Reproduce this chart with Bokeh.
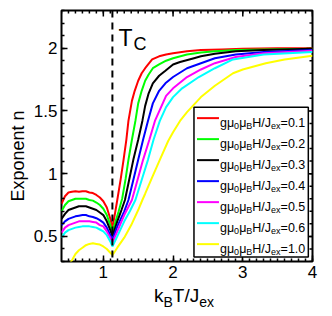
import numpy as np
from bokeh.plotting import figure
from bokeh.models import SingleIntervalTicker, Span, BoxAnnotation, Label, Div
from bokeh.layouts import column
from bokeh.core.properties import value
from bokeh.embed import file_html
from bokeh.resources import INLINE

# ---------------- data ----------------
x_left = [0.40, 0.45, 0.50, 0.55, 0.60, 0.65, 0.70, 0.75, 0.80, 0.85, 0.90, 0.95, 1.00, 1.05, 1.10, 1.13]

red_x = x_left + [1.16, 1.20, 1.25, 1.29, 1.33, 1.36, 1.41, 1.45, 1.50, 1.55, 1.60, 1.70, 1.80, 1.90, 2.00, 2.20, 2.40, 2.70, 3.00, 3.50, 4.00]
red_y = [0.76, 0.82, 0.85, 0.855, 0.86, 0.855, 0.86, 0.86, 0.85, 0.845, 0.83, 0.81, 0.78, 0.73, 0.64, 0.57,
         0.66, 0.79, 0.96, 1.11, 1.27, 1.42, 1.58, 1.66, 1.74, 1.80, 1.84, 1.91, 1.935, 1.95, 1.96, 1.975, 1.985, 1.99, 1.995, 2.0, 2.0]

green_x = x_left + [1.17, 1.22, 1.27, 1.32, 1.36, 1.41, 1.46, 1.50, 1.55, 1.60, 1.65, 1.71, 1.80, 1.90, 2.00, 2.20, 2.40, 2.60, 2.90, 3.30, 4.00]
green_y = [0.70, 0.75, 0.78, 0.79, 0.80, 0.80, 0.80, 0.80, 0.79, 0.785, 0.77, 0.75, 0.72, 0.67, 0.59, 0.53,
           0.61, 0.70, 0.80, 0.96, 1.11, 1.27, 1.42, 1.56, 1.66, 1.74, 1.79, 1.84, 1.87, 1.90, 1.92, 1.95, 1.965, 1.975, 1.985, 1.99, 1.995]

black_x = x_left + [1.20, 1.26, 1.31, 1.37, 1.43, 1.50, 1.56, 1.60, 1.65, 1.71, 1.80, 1.89, 2.00, 2.10, 2.30, 2.40, 2.60, 2.90, 3.30, 4.00]
black_y = [0.64, 0.68, 0.71, 0.72, 0.73, 0.74, 0.74, 0.74, 0.73, 0.72, 0.71, 0.69, 0.67, 0.62, 0.55, 0.50,
           0.62, 0.71, 0.79, 0.95, 1.11, 1.27, 1.42, 1.54, 1.64, 1.72, 1.78, 1.82, 1.87, 1.89, 1.92, 1.935, 1.955, 1.975, 1.985, 1.995]

blue_x = x_left + [1.20, 1.30, 1.36, 1.43, 1.50, 1.57, 1.64, 1.71, 1.80, 1.89, 2.00, 2.20, 2.40, 2.60, 2.90, 3.30, 4.00]
blue_y = [0.59, 0.62, 0.64, 0.65, 0.66, 0.665, 0.67, 0.67, 0.66, 0.655, 0.645, 0.63, 0.61, 0.57, 0.51, 0.47,
          0.58, 0.70, 0.79, 0.95, 1.11, 1.27, 1.42, 1.56, 1.66, 1.72, 1.77, 1.84, 1.88, 1.92, 1.95, 1.97, 1.985]

magenta_x = x_left + [1.20, 1.30, 1.41, 1.49, 1.57, 1.66, 1.74, 1.86, 1.90, 2.00, 2.20, 2.40, 2.60, 2.90, 3.30, 4.00]
magenta_y = [0.53, 0.57, 0.59, 0.60, 0.61, 0.62, 0.62, 0.62, 0.62, 0.615, 0.61, 0.59, 0.58, 0.54, 0.49, 0.45,
             0.54, 0.67, 0.79, 0.95, 1.11, 1.27, 1.42, 1.57, 1.62, 1.68, 1.77, 1.83, 1.88, 1.93, 1.96, 1.98]

cyan_x = x_left + [1.20, 1.30, 1.38, 1.46, 1.55, 1.64, 1.72, 1.81, 1.90, 2.00, 2.13, 2.37, 2.60, 2.86, 3.30, 4.00]
cyan_y = [0.49, 0.53, 0.55, 0.56, 0.57, 0.575, 0.58, 0.58, 0.58, 0.575, 0.57, 0.555, 0.54, 0.51, 0.46, 0.42,
          0.50, 0.62, 0.70, 0.79, 0.95, 1.11, 1.27, 1.42, 1.53, 1.61, 1.68, 1.77, 1.84, 1.91, 1.95, 1.97]

yellow_x = [0.50, 0.55, 0.60, 0.65, 0.70, 0.75, 0.80, 0.85, 0.90, 0.95, 1.00, 1.05, 1.10, 1.13,
            1.20, 1.30, 1.40, 1.50, 1.56, 1.60, 1.70, 1.81, 1.93, 2.00, 2.10, 2.20, 2.30, 2.40, 2.60, 2.86, 3.00, 3.33, 3.60, 4.00]
yellow_y = [0.27, 0.31, 0.36, 0.39, 0.41, 0.43, 0.44, 0.445, 0.44, 0.435, 0.42, 0.40, 0.37, 0.35,
            0.41, 0.49, 0.59, 0.71, 0.79, 0.84, 0.97, 1.11, 1.26, 1.33, 1.42, 1.49, 1.55, 1.61, 1.70, 1.80, 1.83, 1.88, 1.91, 1.94]

field_labels = ["0.1", "0.2", "0.3", "0.4", "0.5", "0.6", "1.0"]
series = [(red_x, red_y, "#ff0000"), (green_x, green_y, "#00ff00"), (black_x, black_y, "#000000"),
          (blue_x, blue_y, "#0000ff"), (magenta_x, magenta_y, "#ff00ff"), (cyan_x, cyan_y, "#00ffff"),
          (yellow_x, yellow_y, "#ffff00")]

Tc = 1.13
x_tick_interval = 1.0
y_tick_interval = 0.5

# ---------------- figure ----------------
X0, X1, Y0, Y1 = 0.4, 4.0, 0.3, 2.3
FW, FH = 251, 251
FONT = "Liberation Sans"

p = figure(frame_width=FW, frame_height=FH, x_range=(X0, X1), y_range=(Y0, Y1),
           output_backend="svg", toolbar_location=None,
           min_border_left=61, min_border_right=10, min_border_top=10, min_border_bottom=25)
p.grid.visible = False
p.outline_line_color = "black"
p.outline_line_width = 2
p.outline_line_alpha = 1
p.background_fill_color = "white"
p.border_fill_color = "white"

xt = SingleIntervalTicker(interval=x_tick_interval, num_minor_ticks=10)
yt = SingleIntervalTicker(interval=y_tick_interval, num_minor_ticks=5)

for ax, t in ((p.xaxis[0], xt), (p.yaxis[0], yt)):
    ax.ticker = t
    ax.axis_line_color = None
    ax.major_tick_in = 6
    ax.major_tick_out = 0
    ax.minor_tick_in = 3
    ax.minor_tick_out = 0
    ax.major_tick_line_color = "black"
    ax.minor_tick_line_color = "black"
    ax.major_tick_line_width = 1.5
    ax.minor_tick_line_width = 1.5
    ax.major_label_text_font = FONT
    ax.major_label_text_font_size = "17px"
    ax.major_label_text_color = "black"
    ax.major_label_standoff = 4

p.yaxis.axis_label = "Exponent n" + "\u00a0" * 8
p.yaxis.axis_label_text_font = FONT
p.yaxis.axis_label_text_font_size = "18px"
p.yaxis.axis_label_text_font_style = "normal"
p.yaxis.axis_label_text_color = "black"
p.yaxis.axis_label_standoff = 3

# pixel -> data conversions
kx = (X1 - X0) / FW
ky = (Y1 - Y0) / FH

# mirrored ticks on the top and right edges of the box
xmaj = np.arange(np.ceil(X0 / x_tick_interval) * x_tick_interval, X1 + 1e-9, x_tick_interval)
xmin = np.arange(np.ceil(X0 / (x_tick_interval / 10)) * (x_tick_interval / 10), X1 + 1e-9, x_tick_interval / 10)
ymaj = np.arange(np.ceil(Y0 / y_tick_interval) * y_tick_interval, Y1 + 1e-9, y_tick_interval)
ymin = np.arange(np.ceil(Y0 / (y_tick_interval / 5)) * (y_tick_interval / 5), Y1 + 1e-9, y_tick_interval / 5)
p.segment(x0=xmaj, x1=xmaj, y0=[Y1] * len(xmaj), y1=[Y1 - 6 * ky] * len(xmaj), line_color="black", line_width=1.5)
p.segment(x0=xmin, x1=xmin, y0=[Y1] * len(xmin), y1=[Y1 - 3 * ky] * len(xmin), line_color="black", line_width=1.5)
p.segment(x0=[X1] * len(ymaj), x1=[X1 - 6 * kx] * len(ymaj), y0=ymaj, y1=ymaj, line_color="black", line_width=1.5)
p.segment(x0=[X1] * len(ymin), x1=[X1 - 3 * kx] * len(ymin), y0=ymin, y1=ymin, line_color="black", line_width=1.5)

# curves
for xs, ys, c in series:
    p.line(xs, ys, line_color=c, line_width=2)

# Tc marker
p.add_layout(Span(location=Tc, dimension="height", line_color="black", line_width=2, line_dash="7 5"))
p.add_layout(Label(x=Tc + 6 * kx, y=2.079, text="T", text_font=FONT, text_font_size="23px",
                   text_baseline="alphabetic", text_color="black"))
p.add_layout(Label(x=Tc + 21 * kx, y=2.03, text="C", text_font=FONT, text_font_size="18px",
                   text_baseline="alphabetic", text_color="black"))

# ---------------- legend (drawn by hand) ----------------
leg_left, leg_right, leg_top, leg_bottom = 2.30, 3.94, 1.53, 0.335
p.add_layout(BoxAnnotation(left=leg_left, right=leg_right, top=leg_top, bottom=leg_bottom,
                           fill_color="white", fill_alpha=1, line_color="black", line_width=1.5,
                           line_alpha=1))
n = len(series)
row_h = 21 * ky
ys_rows = [leg_top - 11 * ky - i * row_h for i in range(n)]
p.segment(x0=[leg_left + 3 * kx] * n, x1=[leg_left + 25 * kx] * n,
          y0=ys_rows, y1=ys_rows, line_color=[s[2] for s in series], line_width=2, level="overlay")

F, S = 12.5, 9
w = lambda adv, size: adv * size / 1000.0
tx = leg_left + 26 * kx
o_0 = w(556 + 576, F)
o_mu = o_0 + w(556, S)
o_B = o_mu + w(576, F)
o_HJ = o_B + w(667, S)
o_ex = o_HJ + w(722 + 278 + 500, F)
o_eq = o_ex + w(556 + 500, S)
base = [yy - 4.5 * ky for yy in ys_rows]
subb = [yy - 8 * ky for yy in ys_rows]
main_kw = dict(text_font=value(FONT), text_font_size=f"{F}px", text_baseline="alphabetic",
               text_color="black", level="overlay")
sub_kw = dict(text_font=value(FONT), text_font_size=f"{S}px", text_baseline="alphabetic",
              text_color="black", level="overlay")
p.text(x=[tx] * n, y=base, text=["gμ"] * n, **main_kw)
p.text(x=[tx + o_0 * kx] * n, y=subb, text=["0"] * n, **sub_kw)
p.text(x=[tx + o_mu * kx] * n, y=base, text=["μ"] * n, **main_kw)
p.text(x=[tx + o_B * kx] * n, y=subb, text=["B"] * n, **sub_kw)
p.text(x=[tx + o_HJ * kx] * n, y=base, text=["H/J"] * n, **main_kw)
p.text(x=[tx + o_ex * kx] * n, y=subb, text=["ex"] * n, **sub_kw)
p.text(x=[tx + o_eq * kx] * n, y=base, text=["=" + f for f in field_labels], **main_kw)

# ---------------- x axis label (k_B T / J_ex) ----------------
sub_css = "font-size:14px;position:relative;top:5px;"
xlabel = Div(text=f'k<span style="{sub_css}">B</span>T/J<span style="{sub_css}">ex</span>',
             width=310, height=28, margin=(0, 0, 0, 0),
             styles={"font-family": FONT, "font-size": "19px", "line-height": "19px",
                     "color": "black", "padding-left": "154px", "padding-top": "0px",
                     "white-space": "nowrap"})

layout = column(p, xlabel, spacing=0)
open("out.html", "w").write(file_html(layout, INLINE))
